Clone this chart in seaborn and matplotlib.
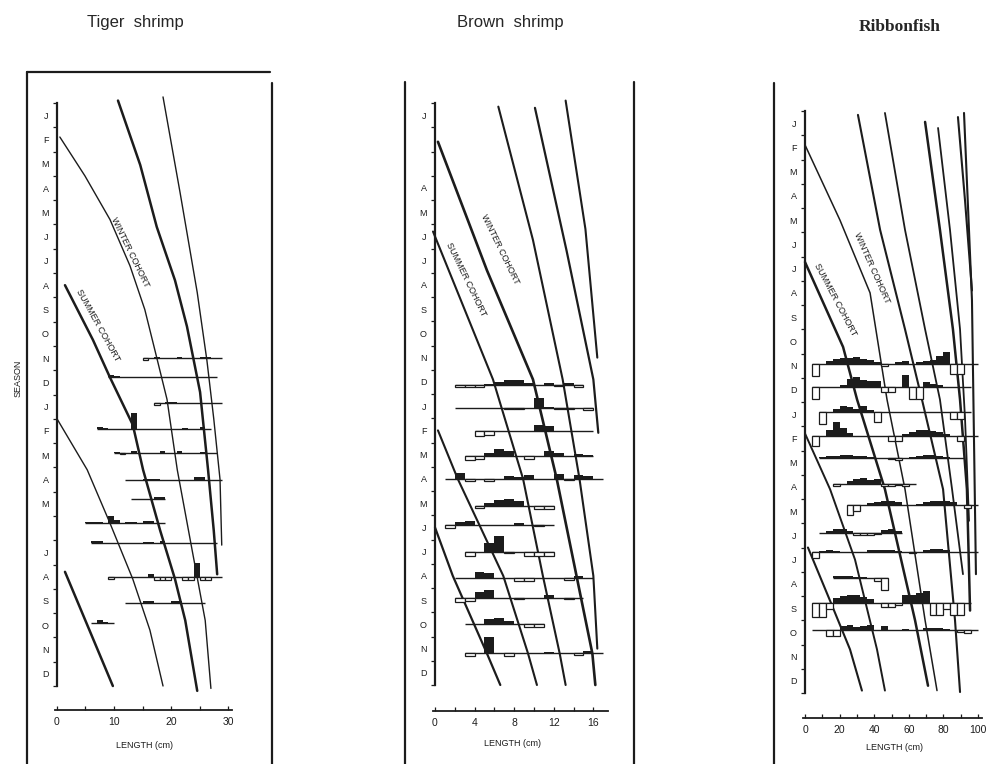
import matplotlib
matplotlib.use("Agg")
import matplotlib.pyplot as plt
import seaborn as sns
import pandas as pd
from matplotlib.lines import Line2D

sns.set_theme(style="white")
plt.rcParams["font.family"] = ["Liberation Sans", "DejaVu Sans"]

# ---------------- data ----------------
MONTHS = ["J", "F", "M", "A", "M", "J", "J", "A", "S", "O", "N", "D"]
tiger_month_labels = MONTHS + ["J", "F", "M", "A", "M", "", "J", "A", "S", "O", "N", "D"]
brown_month_labels = ["J", "", "", "A", "M", "J", "J", "A", "S", "O", "N", "D"] + MONTHS
ribbon_month_labels = MONTHS + MONTHS

tiger_xticks = [0, 10, 20, 30]
brown_xticks = [0, 4, 8, 12, 16]
ribbon_xticks = [0, 20, 40, 60, 80, 100]

# growth curves: length (cm) and time (months from January of year 1)
tiger_curve_len = [
    [0.5, 4.9, 9.3, 12.8, 15.4, 17.2, 19.3, 21.1, 23.7, 26.0, 27.0],      # winter cohort yr1
    [1.4, 6.3, 9.3, 13.3, 15.1, 18.1, 20.7, 22.5, 24.6],                  # summer cohort yr1
    [10.7, 14.6, 17.5, 20.7, 22.8, 25.1, 26.5, 27.5, 28.1],               # older cohort
    [18.6, 21.6, 24.6, 26.3, 27.5, 28.6, 28.9],                           # older cohort
    [0.0, 5.3, 9.3, 13.3, 16.3, 18.6],                                     # winter cohort yr2
    [1.4, 9.8],                                                            # summer cohort yr2
]
tiger_curve_time = [
    [1.4, 3.0, 4.8, 6.7, 8.5, 10.2, 12.2, 15.1, 18.4, 21.3, 24.1],
    [7.5, 9.75, 11.3, 13.25, 15.1, 17.6, 19.6, 21.3, 24.2],
    [-0.1, 2.55, 5.1, 7.3, 9.2, 11.9, 15.1, 17.6, 19.4],
    [-0.25, 3.7, 7.8, 10.6, 13.0, 15.5, 18.2],
    [13.0, 15.1, 17.3, 19.6, 21.7, 24.0],
    [19.3, 24.0],
]
brown_curve_len = [
    [-0.2, 5.86, 8.9, 10.9, 12.6, 13.2],
    [0.3, 5.25, 9.9, 12.3, 14.3, 15.9, 16.2],
    [6.4, 9.9, 12.9, 14.6, 16.0, 16.4],
    [10.1, 13.3, 16.0, 16.5],
    [13.2, 15.2, 16.4],
    [0.3, 2.3, 6.9, 9.4, 10.3],
    [0.0, 1.8, 5.25, 6.6],
]
brown_curve_time = [
    [5.3, 11.4, 15.5, 19.5, 22.7, 24.0],
    [1.6, 6.9, 11.4, 15.5, 19.5, 22.7, 24.0],
    [0.15, 5.65, 11.4, 15.5, 19.5, 22.5],
    [0.2, 6.1, 11.4, 13.6],
    [-0.1, 5.2, 10.5],
    [13.5, 15.5, 19.5, 22.7, 24.0],
    [17.5, 19.5, 22.7, 24.0],
]
ribbon_curve_len = [
    [0.0, 22.0, 30.1, 46.2, 63.6, 71.1],
    [0.0, 20.2, 37.6, 47.4, 57.8, 69.4, 76.3],
    [30.6, 43.4, 57.8, 67.6, 79.8, 86.7, 89.6],
    [46.2, 57.8, 69.4, 78.0, 85.0, 91.3],
    [69.4, 78.0, 85.5, 89.6, 93.6, 95.4],
    [76.9, 83.8, 89.6, 92.5, 94.8],
    [88.4, 92.5, 96.5],
    [91.9, 96.5, 98.8],
    [0.0, 14.5, 28.9, 41.6, 46.2],
    [1.7, 14.5, 26.0, 32.9],
]
ribbon_curve_time = [
    [6.23, 9.73, 11.9, 15.6, 21.0, 23.7],
    [1.4, 4.5, 7.5, 11.9, 15.6, 21.0, 23.9],
    [0.16, 4.9, 9.0, 11.9, 15.6, 21.0, 23.96],
    [0.08, 4.9, 9.0, 11.9, 15.6, 19.1],
    [0.45, 4.9, 9.0, 11.9, 15.6, 20.6],
    [0.7, 4.9, 9.0, 12.7, 16.9],
    [0.25, 3.7, 7.4],
    [0.08, 7.8, 19.1],
    [13.3, 15.6, 18.5, 22.2, 23.9],
    [18.0, 20.2, 22.2, 23.9],
]

# restructured length-frequency samples (black = positive, white = negative scores)
tiger_row_month = [10.5, 11.3, 12.35, 13.4, 14.4, 15.5, 16.3, 17.3, 18.1, 19.5, 20.6, 21.4]
tiger_row_start = [15, 9, 17, 7, 10, 12, 13, 5, 6, 9, 12, 6]
tiger_row_scores = [
    [-2, 0, 1.5, 0, 0, 0, 1.5, 0, 0, 0, 1.5, 1.5, 0, 0],
    [2, 1, 0, 0, 0, 0, 0, 0, 0, 0, 0, 0, 0, 0, 0, 0, 0, 0, 0],
    [-2, 0, 1.5, 1, 0, 0, 0, 0, 0, 0, 0, 0],
    [2, 1, 0, 0, 0, 0, 16, 0, 0, 0, 0, 0, 0, 0, 0, 1, 0, 0, 1.5, 0],
    [1, -1, 0, 2, 0, 0, 0, 0, 1.5, 0, 0, 1.5, 0, 0, 0, 1, 0, 0],
    [0, 0, 0, 1, 1, 1, 0, 0, 0, 0, 0, 0, 2.5, 2.5, 0, 0, 0],
    [0, 0, 0, 0, 1.5, 1.5],
    [1.5, 1, 1.5, 0, 7, 3, 0, 1.5, 1, 0, 2, 2, 0, 0],
    [2, 2, 0, 0, 0, 0, 0, 0, 0, 1, 1, 0, 2, 0, 0, 0, 0, 0, 0, 0, 0, 0],
    [-2, 0, 0, 0, 0, 0, 0, 3, -3, -3, -3, 0, 0, -3, -3, 14, -3, -3, 0, 0],
    [0, 0, 0, 2, 2, 0, 0, 0, 2, 2, 0, 0, 0, 0],
    [0, 2.5, 1, 0],
]
brown_row_month = [11.63, 12.58, 13.53, 14.56, 15.5, 16.6, 17.4, 18.5, 19.6, 20.4, 21.5, 22.7]
brown_row_start = [2, 2, 4, 3, 1, 4, 1, 3, 2, 2, 3, 3]
brown_row_scores = [
    [-2, -2, -2, 1, 3, 5, 5, 2, 0, 2, -1, 2, -2],
    [0, 0, 0, 0, 0, -1, -1, 0, 10, 1, -1, -1, 0.5, -2],
    [-5, -4, 0, 0, 0, 0, 6, 5, 0, 0, 0, 0],
    [-4, -3, 3, 7, 5, 0, -3, 0, 5, 3, 0, 2, 1],
    [0, 6, -2, 0, -2, 0, 3, 2, 4, 0, 0, 5, -1, 4, 3, 0],
    [-2, 3, 6, 7, 5, 0, -3, -3],
    [-3, 3, 4, 0, 0, 0, 0, 1.5, 0, -1, 0],
    [-4, 0, 9, 16, -1, 0, -4, -4, -4],
    [0, 0, 6, 5, 0, 0, -3, -3, 0, 0, 0, -2, 2, 0],
    [-4, -3, 6, 8, 0, 0, -1, 0, 0, 3, 0, -1, 0],
    [0, 0, 5, 6, 3, 0, -3, -3],
    [-3, 0, 16, 0, -3, 0, 0, 0, 1, 0, 0, -2, 2, 0],
]
ribbon_row_month = [10.43, 11.4, 12.4, 13.4, 14.3, 15.4, 16.25, 17.4, 18.2, 19.26, 20.3, 21.4]
ribbon_row_start = [4, 4, 8, 4, 8, 16, 24, 8, 4, 16, 4, 4]
ribbon_row_scores = [
    [-12, 0, 3, 5, 6, 6, 7, 5, 4, 2, -2, 0, 2, 3, 0, 2, 3, 4, 8, 12, -10, -10, 0, 0],
    [-12, 0, 0, 0, 2, 8, 10, 7, 6, 6, -5, -5, 0, 12, -12, -12, 5, 3, 2, 0, 0, 0, 0],
    [-12, 0, 3, 6, 5, 3, 6, 2, -10, 0, 0, 0, 0, 0, 0, 0, 0, 0, 0, -7, -7, 0],
    [-10, 0, 6, 14, 8, 3, 0, 0, 0, 0, 0, -5, -5, 2, 4, 6, 6, 5, 4, 2, 0, -5, 0, 0],
    [1, 2, 2, 3, 3, 2, 2, 1, 0, 0, -1, -2, 0, 1, 2, 3, 3, 2, 1, 0, 0],
    [-2, 0, 3, 5, 6, 4, 5, -2, -2, -1, -2, 0],
    [-10, -6, 0, 2, 3, 4, 4, 3, 0, 0, 1, 3, 4, 4, 4, 3, 0, -3, 0],
    [0, 2, 4, 4, 2, -2, -2, -2, -1, 3, 4, 2],
    [-6, 1, 2, 1, 0, 0, 0, 0, 2, 2, 2, 2, 1, 0, -1, 0, 2, 3, 3, 2, 0, 0, 0, 0],
    [2, 2, 2, 1, 1, 0, -3, -12],
    [-14, -14, -6, 5, 7, 8, 8, 6, 4, 0, -4, -4, -2, 8, 8, 10, 12, -12, -12, -6, -12, -12, 0],
    [0, 0, -6, -6, 4, 5, 3, 4, 5, 0, 4, 0, 0, 1, 0, 0, 2, 2, 2, 1, 0, -2, -3, 0],
]

# ---------------- figure ----------------
W, H = 1001, 764
fig = plt.figure(figsize=(W / 100, H / 100), dpi=100)
INK = "#1c1c1c"


def fx(x):
    return x / W


def fy(y):
    return 1 - y / H


def frame_line(x0, y0, x1, y1, lw=1.6):
    fig.add_artist(Line2D([fx(x0), fx(x1)], [fy(y0), fy(y1)], color=INK, lw=lw,
                          transform=fig.transFigure))


panels = [
    dict(rect=(55, 232, 103, 686), xlim=(-0.35, 30.7), xticks=tiger_xticks, minor=5, out=17,
         labels=tiger_month_labels, clen=tiger_curve_len, ctime=tiger_curve_time,
         cwidth=[1.0, 1.8, 1.8, 1.0, 1.0, 1.8],
         rmonth=tiger_row_month, rstart=tiger_row_start, rscores=tiger_row_scores, bw=1.0,
         winter=(12.8, 6.13, -64), summer=(7.2, 9.14, -61)),
    dict(rect=(433, 608, 103, 685), xlim=(-0.2, 17.48), xticks=brown_xticks, minor=2, out=19,
         labels=brown_month_labels, clen=brown_curve_len, ctime=brown_curve_time,
         cwidth=[1.5, 1.9, 1.5, 1.6, 1.5, 1.5, 1.6],
         rmonth=brown_row_month, rstart=brown_row_start, rscores=brown_row_scores, bw=1.0,
         winter=(6.57, 6.02, -64), summer=(3.13, 7.26, -64)),
    dict(rect=(803, 982, 111, 693), xlim=(-1.16, 102.3), xticks=ribbon_xticks, minor=10, out=18,
         labels=ribbon_month_labels, clen=ribbon_curve_len, ctime=ribbon_curve_time,
         cwidth=[1.8, 1.1, 1.5, 1.3, 1.8, 1.3, 1.5, 1.5, 1.4, 1.5],
         rmonth=ribbon_row_month, rstart=ribbon_row_start, rscores=ribbon_row_scores, bw=4.0,
         winter=(38.7, 6.47, -66), summer=(17.3, 7.8, -62)),
]

for p in panels:
    l, r, t, b = p["rect"]
    ax = fig.add_axes([fx(l), fy(b), (r - l) / W, (b - t) / H])
    ax.set_facecolor("none")
    ax.set_xlim(*p["xlim"])
    ax.set_ylim(24, 0)
    px_per_month = (b - t) / 24.0
    scale = 1.0 / px_per_month

    # growth curves
    for xs, ys, lw in zip(p["clen"], p["ctime"], p["cwidth"]):
        df = pd.DataFrame({"length": xs, "time": ys})
        sns.lineplot(data=df, x="length", y="time", sort=False, estimator=None,
                     ax=ax, color=INK, lw=lw, clip_on=False)

    # length-frequency rows
    for y0, x0, scores in zip(p["rmonth"], p["rstart"], p["rscores"]):
        bw = p["bw"]
        ax.hlines(y0, x0, x0 + bw * len(scores), color=INK, lw=1.0, zorder=3)
        for i, v in enumerate(scores):
            if v == 0:
                continue
            left = x0 + i * bw
            if v > 0:
                ax.bar(left, -v * scale, bottom=y0, width=bw, align="edge",
                       color=INK, linewidth=0, zorder=4)
            else:
                ax.bar(left, -v * scale, bottom=y0, width=bw, align="edge",
                       facecolor="white", edgecolor=INK, linewidth=0.9, zorder=4)

    # cohort labels
    wx, wy, wr = p["winter"]
    sx, sy, sr = p["summer"]
    ax.text(wx, wy, "WINTER COHORT", rotation=wr, ha="center", va="center",
            fontsize=6.5, color=INK, rotation_mode="anchor")
    ax.text(sx, sy, "SUMMER COHORT", rotation=sr, ha="center", va="center",
            fontsize=6.5, color=INK, rotation_mode="anchor")

    # axes styling
    for s in ["top", "right"]:
        ax.spines[s].set_visible(False)
    ax.spines["left"].set_position(("data", 0))
    ax.spines["left"].set_color(INK)
    ax.spines["left"].set_linewidth(1.6)
    ax.spines["bottom"].set_position(("outward", p["out"]))
    ax.spines["bottom"].set_color(INK)
    ax.spines["bottom"].set_linewidth(1.3)

    ax.set_yticks(range(25))
    ax.set_yticklabels([])
    ax.set_yticks([i + 0.5 for i in range(24)], minor=True)
    ax.set_yticklabels(p["labels"], minor=True)
    ax.tick_params(axis="y", which="major", direction="out", length=3, width=0.9,
                   color=INK, left=True)
    ax.tick_params(axis="y", which="minor", length=0, labelsize=6.5, pad=6,
                   labelcolor=INK, left=True)

    ax.set_xticks(p["xticks"])
    ax.set_xticklabels([str(v) for v in p["xticks"]])
    mn = p["minor"]
    ax.set_xticks([v for v in range(0, int(p["xlim"][1]) + 1, mn) if v not in p["xticks"]],
                  minor=True)
    ax.tick_params(axis="x", which="both", direction="in", length=3, width=0.9,
                   color=INK, bottom=True, labelsize=7.5, labelcolor=INK, pad=5)
    ax.set_xlabel("")
    ax.set_ylabel("")
    ax.grid(False)

# frames
frame_line(27, 72, 27, 764)
frame_line(27, 72, 270, 72)
frame_line(272, 83, 272, 764)
frame_line(405, 82, 405, 764)
frame_line(634, 82, 634, 764)
frame_line(774, 83, 774, 764)

# titles and axis texts
fig.text(fx(135), fy(22), "Tiger  shrimp", ha="center", va="center", fontsize=12)
fig.text(fx(510), fy(22), "Brown  shrimp", ha="center", va="center", fontsize=12)
fig.text(fx(900), fy(27), "Ribbonfish", ha="center", va="center", fontsize=12.5,
         fontweight="bold", family=["Liberation Serif", "DejaVu Serif"])
for xc, yc in [(145, 745), (513, 743), (895, 747)]:
    fig.text(fx(xc), fy(yc), "LENGTH (cm)", ha="center", va="center", fontsize=6.5, color=INK)
fig.text(fx(18), fy(378), "SEASON", ha="center", va="center", rotation=90, fontsize=6.5,
         color=INK)

fig.savefig("out.png", dpi=100, facecolor="white")
